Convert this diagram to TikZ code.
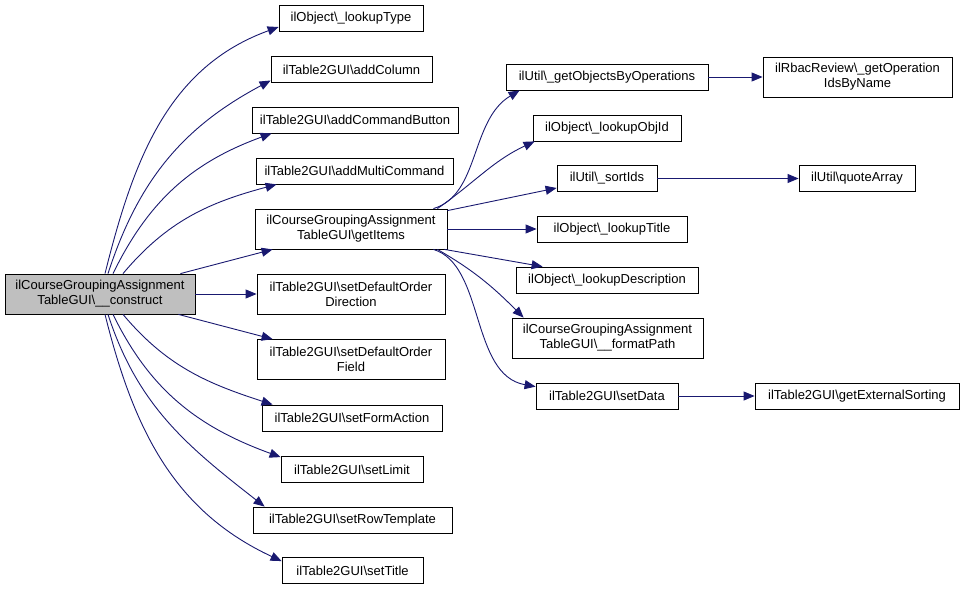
\documentclass[tikz,border=0pt]{standalone}
\usepackage{fontspec}
\setmainfont{Liberation Sans}
\usetikzlibrary{arrows.meta}
\definecolor{edgeblue}{RGB}{25,25,112}
\definecolor{maingray}{RGB}{191,191,191}
\begin{document}
\begin{tikzpicture}[x=1pt,y=1pt,
  fn/.style={draw=black, fill=white, line width=0.8pt, inner sep=0pt, align=center,
    minimum height=26pt, font=\fontsize{13}{15}\selectfont},
  fnn/.style={fn, minimum height=40pt},
  edge/.style={draw=edgeblue, line width=0.9pt, -{Triangle[length=11pt,width=9pt]}}]
\useasboundingbox (0,0) rectangle (964,-589);
% main
\node[fnn, fill=maingray, minimum width=190pt] (main) at (100,-294) {ilCourseGroupingAssignment\\TableGUI\textbackslash\_\_construct};
% column 2
\node[fn, minimum width=144pt] (lookupType) at (351,-18.5) {ilObject\textbackslash\_lookupType};
\node[fn, minimum width=161pt] (addColumn) at (351.5,-69.5) {ilTable2GUI\textbackslash addColumn};
\node[fn, minimum width=206pt] (addCommandButton) at (355,-120) {ilTable2GUI\textbackslash addCommandButton};
\node[fn, minimum width=197pt] (addMultiCommand) at (354.5,-171) {ilTable2GUI\textbackslash addMultiCommand};
\node[fnn, minimum width=192pt] (getItems) at (351,-229) {ilCourseGroupingAssignment\\TableGUI\textbackslash getItems};
\node[fnn, minimum width=188pt] (setDefaultOrderDirection) at (351,-294.5) {ilTable2GUI\textbackslash setDefaultOrder\\Direction};
\node[fnn, minimum width=188pt] (setDefaultOrderField) at (351,-359.5) {ilTable2GUI\textbackslash setDefaultOrder\\Field};
\node[fn, minimum width=180pt] (setFormAction) at (352,-418) {ilTable2GUI\textbackslash setFormAction};
\node[fn, minimum width=142pt] (setLimit) at (352,-469.5) {ilTable2GUI\textbackslash setLimit};
\node[fn, minimum width=199pt] (setRowTemplate) at (352.5,-520) {ilTable2GUI\textbackslash setRowTemplate};
\node[fn, minimum width=141pt] (setTitle) at (352.5,-570.5) {ilTable2GUI\textbackslash setTitle};
% column 3
\node[fn, minimum width=202pt] (getObjectsByOperations) at (607,-77) {ilUtil\textbackslash\_getObjectsByOperations};
\node[fn, minimum width=148pt] (lookupObjId) at (607,-128) {ilObject\textbackslash\_lookupObjId};
\node[fn, minimum width=100pt] (sortIds) at (607,-178.5) {ilUtil\textbackslash\_sortIds};
\node[fn, minimum width=150pt] (lookupTitle) at (612,-229.5) {ilObject\textbackslash\_lookupTitle};
\node[fn, minimum width=182pt] (lookupDescription) at (607,-280) {ilObject\textbackslash\_lookupDescription};
\node[fnn, minimum width=191pt] (formatPath) at (607.5,-338) {ilCourseGroupingAssignment\\TableGUI\textbackslash\_\_formatPath};
\node[fn, minimum width=142pt] (setData) at (607,-396) {ilTable2GUI\textbackslash setData};
% column 4
\node[fnn, minimum width=189pt] (RbacReview) at (857.5,-77) {ilRbacReview\textbackslash\_getOperation\\IdsByName};
\node[fn, minimum width=116pt] (quoteArray) at (857,-178.5) {ilUtil\textbackslash quoteArray};
\node[fn, minimum width=204pt] (getExternalSorting) at (857,-396.5) {ilTable2GUI\textbackslash getExternalSorting};
% edges from main
\draw[edge] ([xshift=5pt]main.north) to[out=76,in=200] ([yshift=-8.5pt]lookupType.west);
\draw[edge] ([xshift=8pt]main.north) to[out=72,in=208] ([yshift=-11pt]addColumn.west);
\draw[edge] ([xshift=13pt]main.north) to[out=64,in=200] ([xshift=20pt]addCommandButton.south west);
\draw[edge] ([xshift=23pt]main.north) to[out=50,in=195] ([xshift=21pt]addMultiCommand.south west);
\draw[edge] ([xshift=-15pt]main.north east) -- ([xshift=18pt]getItems.south west);
\draw[edge] (main.east) -- (main.east -| setDefaultOrderDirection.west);
\draw[edge] ([xshift=-17pt]main.south east) -- ([xshift=16pt]setDefaultOrderField.north west);
\draw[edge] ([xshift=23pt]main.south) to[out=-50,in=162] ([xshift=11pt]setFormAction.north west);
\draw[edge] ([xshift=13pt]main.south) to[out=-64,in=160] ([yshift=-1pt]setLimit.north west);
\draw[edge] ([xshift=8pt]main.south) to[out=-72,in=142] ([xshift=12pt]setRowTemplate.north west);
\draw[edge] ([xshift=5pt]main.south) to[out=-76,in=155] ([yshift=-4pt]setTitle.north west);
% edges from getItems
\draw[edge] ([xshift=-14pt]getItems.north east) .. controls (480,-195) and (470,-120) .. ([xshift=14pt]getObjectsByOperations.south west);
\draw[edge] ([xshift=-10pt]getItems.north east) to[out=35,in=205] ([xshift=2pt]lookupObjId.south west);
\draw[edge] ([yshift=-2pt]getItems.north east) -- ([yshift=-9.5pt]sortIds.west);
\draw[edge] (getItems.east) -- (getItems.east -| lookupTitle.west);
\draw[edge] ([xshift=-3pt]getItems.south east) -- ([xshift=27pt]lookupDescription.north west);
\draw[edge] ([xshift=-10pt]getItems.south east) to[out=-30,in=135] ([xshift=12pt]formatPath.north west);
\draw[edge] ([xshift=-14pt]getItems.south east) .. controls (485,-265) and (470,-375) .. ([yshift=-4pt]setData.north west);
% column 3 to 4
\draw[edge] (getObjectsByOperations.east) -- (getObjectsByOperations.east -| RbacReview.west);
\draw[edge] (sortIds.east) -- (quoteArray.west);
\draw[edge] (setData.east) -- (setData.east -| getExternalSorting.west);
\end{tikzpicture}
\end{document}
